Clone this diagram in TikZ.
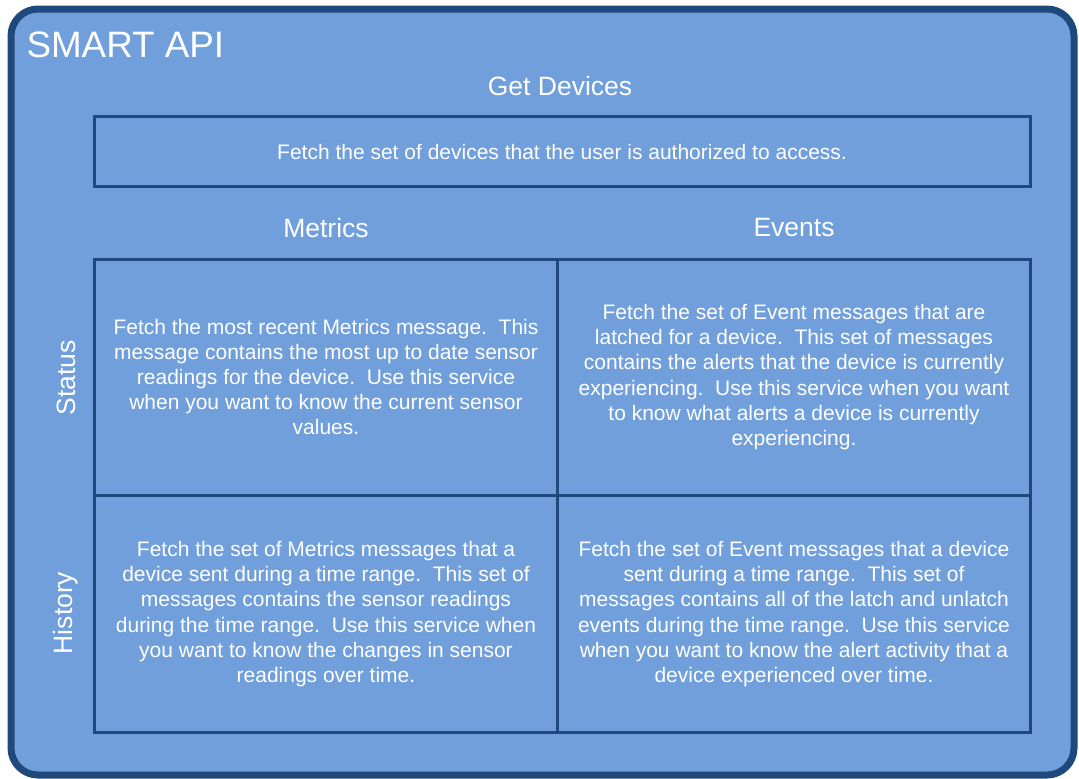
\documentclass[tikz,border=0pt]{standalone}
\usepackage{fontspec}
\setmainfont{Liberation Sans}
\definecolor{panelfill}{HTML}{709FDB}
\definecolor{panelline}{HTML}{1F497D}
\begin{document}
\begin{tikzpicture}[x=1pt,y=-1pt,
  frame/.style={draw=panelline,line width=7pt,fill=panelfill,rounded corners=27pt},
  cell/.style={draw=panelline,line width=3pt},
  head/.style={text=white,font=\fontsize{26.5}{30}\selectfont},
  body/.style={text=white,align=center,font=\fontsize{21}{25.2}\selectfont}]
\useasboundingbox (0,0) rectangle (1079,779);
\draw[frame] (11,9) rectangle (1074,775);
\node[text=white,anchor=west,font=\fontsize{36.8}{40}\selectfont] (title) at (23,45) {SMART API};

% Get Devices
\node[head] (gdh) at (560,86) {Get Devices};
\draw[cell] (94.5,116.5) rectangle (1030.5,186.5);
\node[body] (gd) at (562,152) {Fetch the set of devices that the user is authorized to access.};

% grid
\node[head] (mh) at (326,228) {Metrics};
\node[head] (eh) at (794,228) {Events};
\node[head,rotate=90] (sh) at (66,378) {Status};
\node[head,rotate=90] (hh) at (66,613) {History};
\draw[cell] (94.5,259.5) rectangle (557,495.5);
\draw[cell] (557,259.5) rectangle (1030.5,495.5);
\draw[cell] (94.5,495.5) rectangle (557,732.5);
\draw[cell] (557,495.5) rectangle (1030.5,732.5);

\node[body] (ms) at (326,377) {Fetch the most recent Metrics message.\ \ This\\message contains the most up to date sensor\\readings for the device.\ \ Use this service\\when you want to know the current sensor\\values.};
\node[body] (es) at (794,377) {Fetch the set of Event messages that are\\latched for a device.\ \ This set of messages\\contains the alerts that the device is currently\\experiencing.\ \ Use this service when you want\\to know what alerts a device is currently\\experiencing.};
\node[body] (mhist) at (326,614) {Fetch the set of Metrics messages that a\\device sent during a time range.\ \ This set of\\messages contains the sensor readings\\during the time range.\ \ Use this service when\\you want to know the changes in sensor\\readings over time.};
\node[body] (ehist) at (794,614) {Fetch the set of Event messages that a device\\sent during a time range.\ \ This set of\\messages contains all of the latch and unlatch\\events during the time range.\ \ Use this service\\when you want to know the alert activity that a\\device experienced over time.};
\end{tikzpicture}
\end{document}
